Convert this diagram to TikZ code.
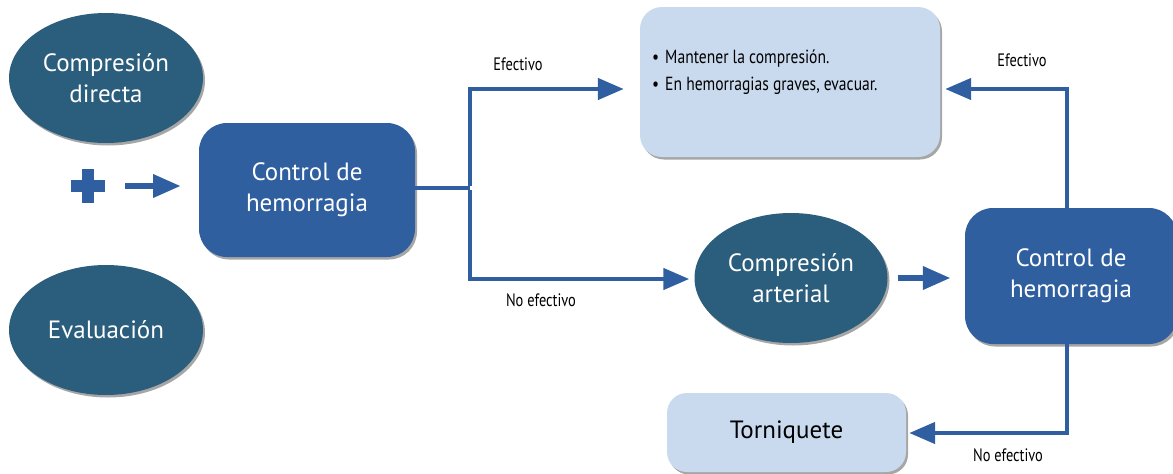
\documentclass[tikz,border=0pt]{standalone}
\usepackage{fontspec}
\setmainfont{PT Sans}
\newfontfamily\condfont[FakeStretch=0.8]{PT Sans}
\newfontfamily\bulfont[FakeStretch=0.82]{PT Sans}
\usetikzlibrary{arrows.meta,shadows,shapes.geometric}
\definecolor{teal}{HTML}{2B5E7C}
\definecolor{boxblue}{HTML}{2F5F9F}
\definecolor{lightblue}{HTML}{C9DAEF}
\definecolor{arrblue}{HTML}{2F5FA0}
\tikzset{
  shad/.style={drop shadow={shadow xshift=2pt,shadow yshift=-2.5pt,opacity=0.35,fill=black}},
  oval/.style={ellipse,fill=teal,shad,text=white,inner sep=0pt,font=\fontsize{25}{31}\selectfont,align=center},
  darkbox/.style={rectangle,rounded corners=28pt,fill=boxblue,shad,text=white,inner sep=0pt,font=\fontsize{25}{31}\selectfont,align=center},
  litebox/.style={rectangle,rounded corners=22pt,fill=lightblue,shad,inner sep=0pt},
  conn/.style={draw=arrblue,line width=4.5pt},
  arr/.style={conn,-{Triangle[length=26pt,width=21pt]}},
  blockarr/.style={draw=arrblue,line width=6.5pt,-{Triangle[length=28pt,width=22pt]}},
  lbl/.style={font=\condfont\fontsize{18}{20}\selectfont,inner sep=0pt},
  bul/.style={font=\bulfont\fontsize{19}{24}\selectfont,inner sep=0pt,anchor=base west},
}
\begin{document}
\begin{tikzpicture}[x=1pt,y=-1pt]
\useasboundingbox (0,0) rectangle (1173,474);
\clip (0,0) rectangle (1173,474);
% left column
\node[oval,minimum width=194pt,minimum height=130pt] (cd) at (106,78) {Compresión\\directa};
\node[oval,minimum width=194pt,minimum height=130pt] (ev) at (106,330) {Evaluación};
\node[darkbox,minimum width=216pt,minimum height=134pt] (c1) at (307,190) {Control de\\hemorragia};
% plus sign
\coordinate (pc) at (88,186);
\fill[arrblue] ([xshift=-17pt,yshift=-6pt]pc) rectangle ([xshift=17pt,yshift=6pt]pc);
\fill[arrblue] ([xshift=-6pt,yshift=-17pt]pc) rectangle ([xshift=6pt,yshift=17pt]pc);
\coordinate (a0) at (125,186);
\coordinate (a1) at (181,186);
\draw[blockarr] (a0) -- (a1);
% top right box
\node[litebox,minimum width=300pt,minimum height=150pt] (lb) at (790,82) {};
\node[bul] (b1) at (652,63) {\textbullet\hspace{6pt}Mantener la compresión.};
\node[bul] (b2) at (652,90) {\textbullet\hspace{6pt}En hemorragias graves, evacuar.};
% middle
\node[oval,minimum width=193pt,minimum height=130pt] (ea) at (791,278) {Compresión\\arterial};
\node[darkbox,minimum width=212pt,minimum height=136pt] (c2) at (1071,276) {Control de\\hemorragia};
\node[litebox,rounded corners=20pt,minimum width=239pt,minimum height=79pt,font=\fontsize{25}{30}\selectfont] (tq) at (786.5,432.5) {Torniquete};
% connectors
\coordinate (j) at (470,188);
\draw[conn] (c1.east |- j) -- (j);
\draw[arr,shorten >=16pt] ([yshift=2pt]j) |- (lb.west |- 0,89);
\draw[arr,shorten >=5pt] ([yshift=-2pt]j) |- (ea.west |- 0,279);
\draw[blockarr,shorten <=10pt,shorten >=14pt] (ea.east) -- (c2.west |- ea.east);
\draw[arr,shorten >=5pt] ([xshift=-4pt]c2.north) |- (lb.east |- 0,89);
\draw[arr,shorten >=3pt] ([xshift=-4pt]c2.south) |- (tq.east |- 0,433);
% labels
\node[lbl] (l1) at (518,64) {Efectivo};
\node[lbl] (l2) at (541,300) {No efectivo};
\node[lbl] (l3) at (1022,60) {Efectivo};
\node[lbl] (l4) at (1008,455) {No efectivo};
\end{tikzpicture}
\end{document}
